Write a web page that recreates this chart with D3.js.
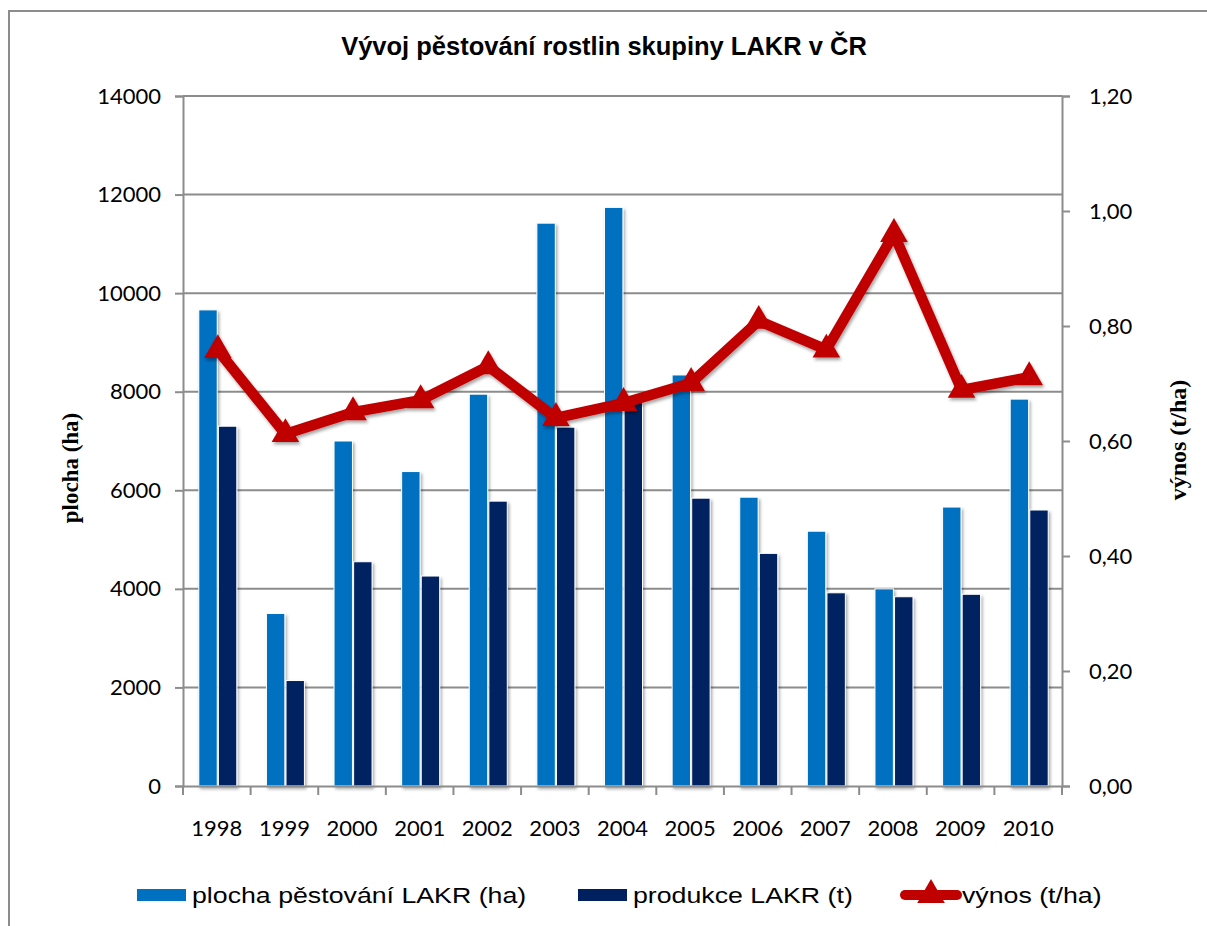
<!DOCTYPE html>
<html lang="cs">
<head>
<meta charset="utf-8">
<title>Vývoj pěstování rostlin skupiny LAKR v ČR</title>
<script src="https://cdn.jsdelivr.net/npm/d3@7/dist/d3.min.js"></script>
<style>
  body { margin: 0; background: #fff; }
  .tick text { font-family: Lato, "Open Sans", sans-serif; font-size: 22px; fill: #000; }
  .legend text { font-family: "Liberation Sans", Arial, sans-serif; font-size: 22px; }
</style>
</head>
<body>
<div id="chart"></div>
<script>
// data
const years = ["1998","1999","2000","2001","2002","2003","2004","2005","2006","2007","2008","2009","2010"];
const plocha = [9660, 3500, 7000, 6380, 7950, 11420, 11740, 8340, 5860, 5170, 4000, 5660, 7850];
const produkce = [7300, 2140, 4550, 4260, 5780, 7280, 7780, 5840, 4720, 3920, 3840, 3890, 5600];
const vynos = [0.758, 0.612, 0.650, 0.671, 0.730, 0.640, 0.666, 0.701, 0.809, 0.759, 0.960, 0.689, 0.711];
const leftTicks = [0, 2000, 4000, 6000, 8000, 10000, 12000, 14000];
const rightTicks = [0, 0.2, 0.4, 0.6, 0.8, 1.0, 1.2];

const width = 1207, height = 926;
const plotL = 183, plotR = 1062, plotT = 96, plotB = 786;
const gridColor = "#8c8c8c";

const svg = d3.select("#chart").append("svg")
    .attr("width", width)
    .attr("height", height);

const defs = svg.append("defs");
const shadow = defs.append("filter").attr("id", "shadow")
    .attr("x", "-20%").attr("y", "-20%").attr("width", "150%").attr("height", "150%");
shadow.append("feDropShadow")
    .attr("dx", 1.5).attr("dy", 2.5).attr("stdDeviation", 1.5)
    .attr("flood-color", "#000").attr("flood-opacity", 0.35);

// outer frame (left + top only visible)
svg.append("path")
    .attr("d", `M9,926 V11 H1207`)
    .attr("fill", "none")
    .attr("stroke", "#8c8c8c")
    .attr("stroke-width", 2);

const x = d3.scaleBand().domain(years).range([plotL, plotR]).padding(0);
const y = d3.scaleLinear().domain([0, 14000]).range([plotB, plotT]);
const y2 = d3.scaleLinear().domain([0, 1.2]).range([plotB, plotT]);

const groupW = 38;
const xs = d3.scaleBand().domain([0, 1]).range([0, groupW]).paddingInner(0.06);
const groupOff = (x.bandwidth() - groupW) / 2 + 1;

// gridlines
svg.append("g")
    .selectAll("line")
    .data(leftTicks.slice(1))
    .join("line")
    .attr("x1", plotL).attr("x2", plotR)
    .attr("y1", d => y(d)).attr("y2", d => y(d))
    .attr("stroke", gridColor).attr("stroke-width", 2);

// title
svg.append("text")
    .attr("x", 604).attr("y", 55)
    .attr("text-anchor", "middle")
    .attr("font-family", "'Liberation Sans', Arial, sans-serif")
    .attr("font-weight", "bold")
    .attr("font-size", 25.5)
    .text("Vývoj pěstování rostlin skupiny LAKR v ČR");

// bars
const series = [
  {name: "plocha pěstování LAKR (ha)", values: plocha, color: "#0070C0"},
  {name: "produkce LAKR (t)", values: produkce, color: "#002060"}
];

series.forEach((s, i) => {
  svg.append("g")
    .attr("filter", "url(#shadow)")
    .selectAll("rect")
    .data(s.values)
    .join("rect")
    .attr("x", (d, j) => x(years[j]) + groupOff + xs(i))
    .attr("width", xs.bandwidth())
    .attr("y", d => y(d))
    .attr("height", d => y(0) - y(d))
    .attr("fill", s.color)
    .attr("stroke", "#fff")
    .attr("stroke-width", 1);
});

// axes
const axisL = svg.append("g")
    .attr("transform", `translate(${plotL},0)`)
    .call(d3.axisLeft(y).tickValues(leftTicks).tickSize(8).tickPadding(14).tickFormat(d3.format("d")));
const axisR = svg.append("g")
    .attr("transform", `translate(${plotR},0)`)
    .call(d3.axisRight(y2).tickValues(rightTicks).tickSize(8).tickPadding(19)
        .tickFormat(d => d3.format(".2f")(d).replace(".", ",")));
const axisB = svg.append("g")
    .attr("transform", `translate(0,${plotB})`)
    .call(d3.axisBottom(x).tickSize(0).tickPadding(34));

axisL.selectAll(".tick text").attr("font-size", 23);
axisR.selectAll(".tick text").attr("font-size", 23);

[axisL, axisR, axisB].forEach(a => {
  a.select(".domain").attr("stroke", gridColor).attr("stroke-width", 2);
  a.selectAll(".tick line").attr("stroke", gridColor).attr("stroke-width", 2);
});

// x category boundary ticks
svg.append("g")
    .selectAll("line")
    .data(years.concat(["end"]))
    .join("line")
    .attr("x1", (d, i) => i < years.length ? x(d) : plotR)
    .attr("x2", (d, i) => i < years.length ? x(d) : plotR)
    .attr("y1", plotB).attr("y2", plotB + 9)
    .attr("stroke", gridColor).attr("stroke-width", 2);

// axis titles
svg.append("text")
    .attr("transform", "translate(78,468) rotate(-90)")
    .attr("text-anchor", "middle")
    .attr("font-family", "'Liberation Serif', 'Times New Roman', serif")
    .attr("font-weight", "bold")
    .attr("font-size", 23)
    .text("plocha (ha)");
svg.append("text")
    .attr("transform", "translate(1186,440) rotate(-90)")
    .attr("text-anchor", "middle")
    .attr("font-family", "'Liberation Serif', 'Times New Roman', serif")
    .attr("font-weight", "bold")
    .attr("font-size", 24)
    .text("výnos (t/ha)");

// yield line
const cx = (d, i) => x(years[i]) + x.bandwidth() / 2 + 1;
const line = d3.line().x(cx).y(d => y2(d));
const tri = d3.symbol().type(d3.symbolTriangle).size(330);

const lineG = svg.append("g").attr("filter", "url(#shadow)");
lineG.append("path")
    .datum(vynos)
    .attr("d", line)
    .attr("fill", "none")
    .attr("stroke", "#C00000")
    .attr("stroke-width", 10.5)
    .attr("stroke-linejoin", "round");
lineG.selectAll("path.m")
    .data(vynos)
    .join("path")
    .attr("class", "m")
    .attr("d", tri)
    .attr("transform", (d, i) => `translate(${cx(d, i)},${y2(d)})`)
    .attr("fill", "#C00000");

// legend (text in the original is horizontally stretched)
const legend = svg.append("g").attr("class", "legend");
const legItems = [
  {name: series[0].name, color: series[0].color, x: 137, type: "bar"},
  {name: series[1].name, color: series[1].color, x: 578, type: "bar"},
  {name: "výnos (t/ha)", color: "#C00000", x: 902, type: "line"}
];
legItems.forEach(it => {
  const g = legend.append("g");
  if (it.type === "bar") {
    g.append("rect").attr("x", it.x).attr("y", 889).attr("width", 49).attr("height", 12).attr("fill", it.color);
  } else {
    g.append("line").attr("x1", it.x + 3).attr("x2", it.x + 55).attr("y1", 895).attr("y2", 895)
      .attr("stroke", it.color).attr("stroke-width", 10).attr("stroke-linecap", "round");
    g.append("path").attr("d", tri).attr("transform", `translate(${it.x + 29},895)`).attr("fill", it.color);
  }
  const tx = it.type === "bar" ? it.x + 55 : it.x + 60;
  g.append("text")
    .attr("transform", `translate(${tx},903) scale(1.215,1)`)
    .text(it.name);
});
</script>
</body>
</html>
